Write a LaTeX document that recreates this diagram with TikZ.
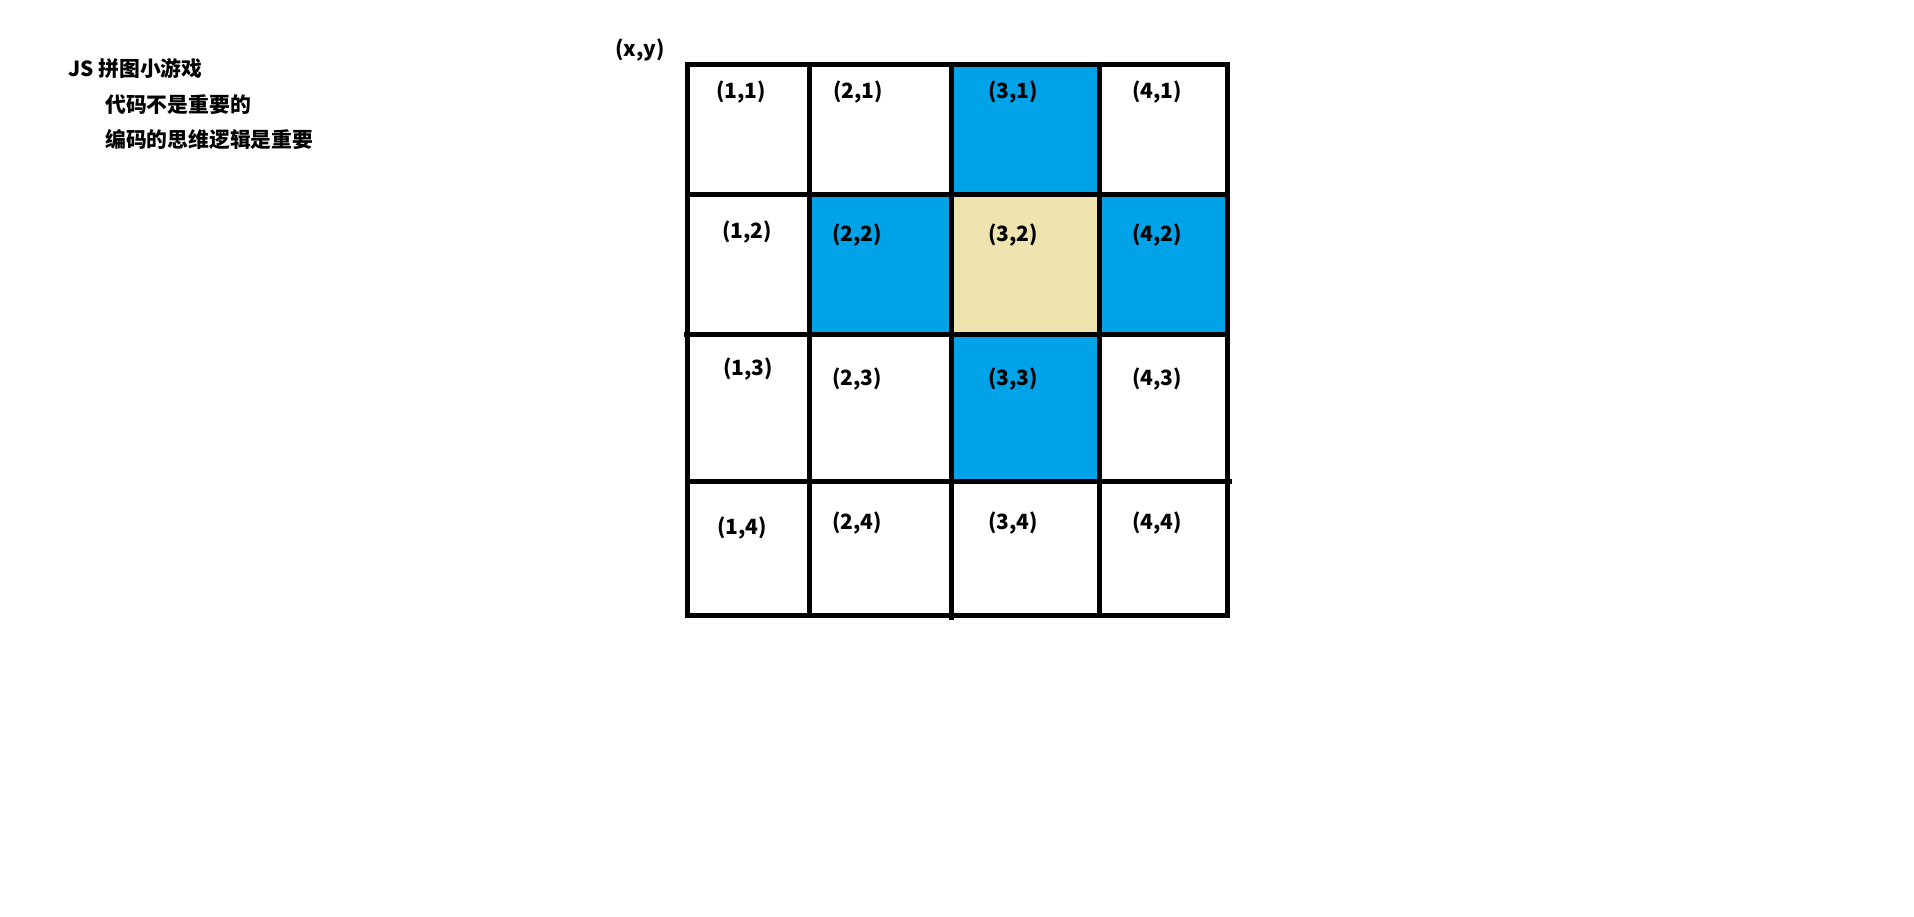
\documentclass[tikz,border=0pt]{standalone}
\usepackage{fontspec}
\setmainfont{Noto Sans CJK SC}
\usepackage{tikz}
\usetikzlibrary{positioning}
\definecolor{PaintBlue}{HTML}{00A2E8}
\definecolor{PaintCream}{HTML}{EFE4B0}

\begin{document}
\begin{tikzpicture}[x=1pt, y=-1pt,
        gridline/.style={draw=black, line width=5pt, line cap=rect},
        near/.style={fill=PaintBlue},
        blank/.style={fill=PaintCream},
        lbl/.style={inner sep=0pt, font=\fontsize{21}{24}\selectfont\bfseries},
        note/.style={inner sep=0pt, anchor=west, font=\fontsize{20.8}{24}\selectfont\bfseries}
    ]
    \fill[white] (0,0) rectangle (1914,916);
    \useasboundingbox (0,0) rectangle (1914,916);

    % notes
    \node [note] (title) at (68,69) {JS 拼图小游戏};
    \node [note] (line1) at (105,105) {代码不是重要的};
    \node [note, below=35pt of line1.west, anchor=west] (line2) {编码的思维逻辑是重要};
    \node [lbl] (axes) at (640,50) {(x,y)};

    % cells around the blank one
    \path [near] (951.5,64.5) rectangle (1099,194.5);
    \path [near] (809.5,194.5) rectangle (951.5,334);
    \path [blank] (951.5,194.5) rectangle (1099,334);
    \path [near] (1099,194.5) rectangle (1227.5,334);
    \path [near] (951.5,334) rectangle (1099,481);

    % grid
    \draw [gridline] (687.5,64.5) rectangle (1227.5,615.5);
    \draw [gridline] (687.5,194.5) -- (1227.5,194.5);
    \draw [gridline] (686,334) -- (1227.5,334);
    \draw [gridline] (687.5,481) -- (1229.5,481);
    \draw [gridline] (809.5,64.5) -- (809.5,615.5);
    \draw [gridline] (951.5,64.5) -- (951.5,617.5);
    \draw [gridline] (1099,64.5) -- (1099,612);

    % cell labels
    \node [lbl] (c11) at (741,92) {(1,1)};
    \node [lbl] (c21) at (858,92) {(2,1)};
    \node [lbl] (c31) at (1013,92) {(3,1)};
    \node [lbl] (c41) at (1157,92) {(4,1)};
    \node [lbl] (c12) at (747,232) {(1,2)};
    \node [lbl] (c22) at (857,235) {(2,2)};
    \node [lbl] (c32) at (1013,235) {(3,2)};
    \node [lbl] (c42) at (1157,235) {(4,2)};
    \node [lbl] (c13) at (748,369) {(1,3)};
    \node [lbl] (c23) at (857,379) {(2,3)};
    \node [lbl] (c33) at (1013,379) {(3,3)};
    \node [lbl] (c43) at (1157,379) {(4,3)};
    \node [lbl] (c14) at (742,528) {(1,4)};
    \node [lbl] (c24) at (857,523) {(2,4)};
    \node [lbl] (c34) at (1013,523) {(3,4)};
    \node [lbl] (c44) at (1157,523) {(4,4)};
\end{tikzpicture}
\end{document}
